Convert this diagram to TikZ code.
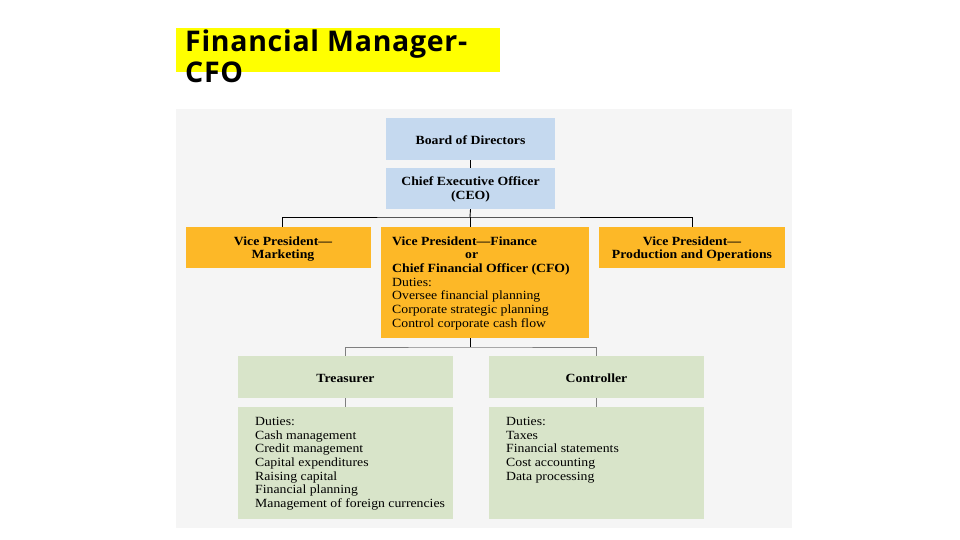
\documentclass[tikz,border=0pt]{standalone}
\usepackage{fontspec}
\setmainfont{Liberation Serif}[FakeStretch=1.1]
\newfontfamily\titlefont{Open Sans}[LetterSpace=2.5]
\definecolor{panelgray}{HTML}{F5F5F5}
\definecolor{boxblue}{HTML}{C5D9EF}
\definecolor{boxorange}{HTML}{FDB827}
\definecolor{boxgreen}{HTML}{D8E4C9}
\definecolor{titleyellow}{HTML}{FFFF00}
\definecolor{linegray}{HTML}{7F7F7F}
\begin{document}
\begin{tikzpicture}[x=1pt,y=-1pt,
  chartbox/.style={inner sep=0pt,draw=none,align=center,font=\fontsize{12.5}{13.7}\selectfont\bfseries},
  bluebox/.style={chartbox,fill=boxblue,minimum width=169pt},
  orangebox/.style={chartbox,fill=boxorange},
  greenbox/.style={chartbox,fill=boxgreen,minimum width=215pt},
  boxlabel/.style={inner sep=0pt,align=center,font=\fontsize{12.5}{13.7}\selectfont\bfseries},
  bodytext/.style={inner sep=0pt,anchor=north west,align=left,font=\fontsize{12.5}{13.7}\selectfont},
  blkline/.style={draw=black,line width=0.9pt},
  grayline/.style={draw=linegray,line width=0.9pt}]
\useasboundingbox (0,0) rectangle (960,540);
% title
\fill[titleyellow] (176,28) rectangle (500,72);
\node[inner sep=0pt,anchor=north west,align=left,font=\titlefont\bfseries\fontsize{28.5}{31}\selectfont] (title) at (185,30) {Financial Manager-\\CFO};
% panel
\fill[panelgray] (176,109) rectangle (792,528);
% boxes
\node[bluebox,minimum height=42pt] (bod) at (470.5,139) {};
\node[boxlabel] (bodtext) at (470.5,140.5) {Board of Directors};
\node[bluebox,minimum height=41pt] (ceo) at (470.5,188.5) {};
\node[boxlabel] (ceotext) at (470.5,189.5) {Chief Executive Officer\\(CEO)};
\node[orangebox,minimum width=185pt,minimum height=41pt] (vpm) at (278.5,247.5) {};
\node[boxlabel] (vpmtext) at (283,249) {Vice President---\\Marketing};
\node[orangebox,minimum width=208pt,minimum height=111pt] (vpf) at (485,282.5) {};
\node[orangebox,minimum width=186pt,minimum height=41pt] (vpp) at (692,247.5) {};
\node[boxlabel] (vpptext) at (692,249) {Vice President---\\Production and Operations};
\node[bodytext] (vpftext) at (392,236.3) {\textbf{Vice President---Finance}\\\hspace*{73pt}\textbf{or}\\\textbf{Chief Financial Officer (CFO)}\\Duties:\\Oversee financial planning\\Corporate strategic planning\\Control corporate cash flow};
\node[greenbox,minimum height=42pt] (tre) at (345.5,377) {};
\node[boxlabel] (tretext) at (345.5,378) {Treasurer};
\node[greenbox,minimum height=42pt] (con) at (596.5,377) {};
\node[boxlabel] (context) at (596.5,378) {Controller};
\node[greenbox,minimum height=112pt] (tred) at (345.5,463) {};
\node[greenbox,minimum height=112pt] (cond) at (596.5,463) {};
\node[bodytext] (tredtext) at (255,417) {Duties:\\Cash management\\Credit management\\Capital expenditures\\Raising capital\\Financial planning\\Management of foreign currencies};
\node[bodytext] (condtext) at (506,417) {Duties:\\Taxes\\Financial statements\\Cost accounting\\Data processing};
% connectors
\draw[blkline] (bod.south) -- (ceo.north);
\coordinate (j1) at (470,217);
\draw[blkline] (ceo.south) -- (j1);
\draw[blkline] ([xshift=4pt]vpm.north) |- (j1) -| (vpp.north);
\draw[blkline] (j1) -- (j1 |- vpf.north);
\coordinate (j2) at (470,347);
\draw[blkline] (j2 |- vpf.south) -- (j2);
\draw[grayline] (tre.north) |- (j2) -| (con.north);
\draw[grayline] (tre.south) -- (tred.north);
\draw[grayline] (con.south) -- (cond.north);
\end{tikzpicture}
\end{document}
